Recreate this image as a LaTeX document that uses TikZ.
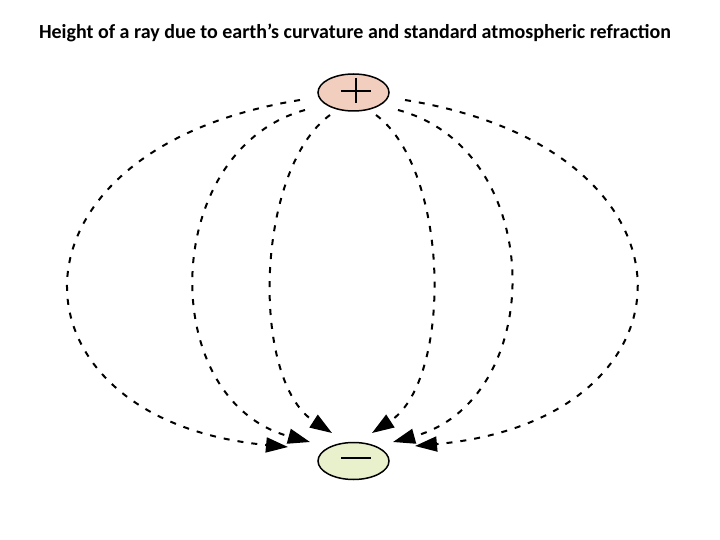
\documentclass[tikz,border=0pt]{standalone}
\usepackage{fontspec}
\setmainfont{Carlito}
\usetikzlibrary{arrows.meta,shapes.geometric}
\begin{document}
\begin{tikzpicture}[x=1pt,y=-1pt,
  ray/.style={line width=2pt,dash pattern=on 6pt off 8pt,-{Triangle[length=22pt,width=15pt]}},
  pole/.style={ellipse,draw,line width=1.5pt,minimum width=71pt,minimum height=37pt,inner sep=0pt}]
\useasboundingbox (0,0) rectangle (720,540);
\node[font=\bfseries\fontsize{20}{24}\selectfont] (title) at (355,33) {Height of a ray due to earth’s curvature and standard atmospheric refraction};
\node[pole,fill={rgb,255:red,242;green,206;blue,190}] (p) at (353.5,92.5) {};
\draw[line width=1.6pt] (p.center)++(-12.5,-1.5) -- ++(30,0) (p.center)++(2.5,-14.5) -- ++(0,25);
\node[pole,fill={rgb,255:red,232;green,240;blue,204}] (m) at (353.5,461) {};
\draw[line width=1.6pt] (m.center)++(-12.5,-3) -- ++(30,0);
\coordinate (s1) at (300,100); \coordinate (e1) at (288,447);
\coordinate (s2) at (305,110); \coordinate (e2) at (310,442);
\coordinate (s3) at (330,115); \coordinate (e3) at (332,433);
\coordinate (s4) at (376,115); \coordinate (e4) at (372,433);
\coordinate (s5) at (398,110); \coordinate (e5) at (393,442);
\coordinate (s6) at (405,100); \coordinate (e6) at (415,446);
\draw[ray] (s1) .. controls (-10,150) and (0,420) .. (e1);
\draw[ray] (s2) .. controls (160,150) and (155,400) .. (e2);
\draw[ray] (s3) .. controls (255,170) and (250,380) .. (e3);
\draw[ray] (s4) .. controls (450,170) and (453,380) .. (e4);
\draw[ray] (s5) .. controls (548,150) and (548,400) .. (e5);
\draw[ray] (s6) .. controls (715,150) and (705,420) .. (e6);
\end{tikzpicture}
\end{document}
